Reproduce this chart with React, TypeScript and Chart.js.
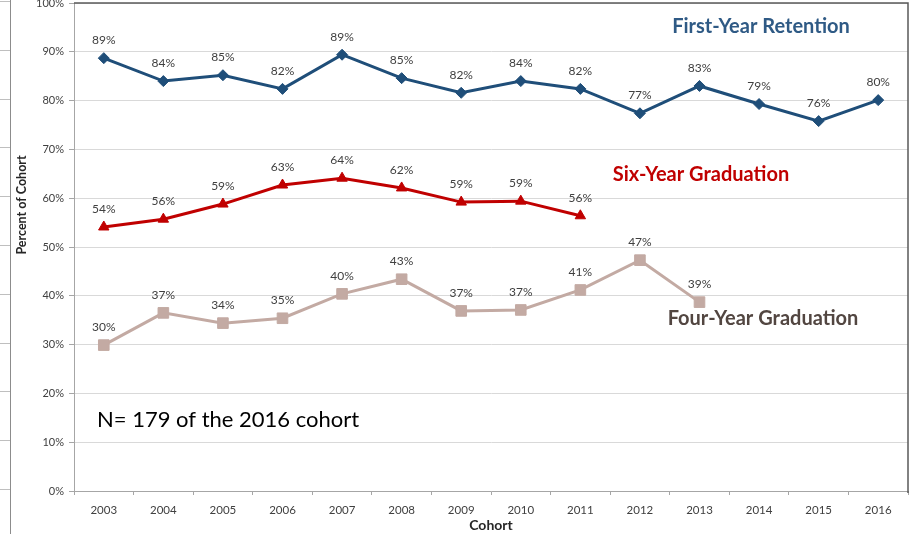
import React, { useEffect, useRef } from "react";
import { Chart, registerables } from "chart.js";

Chart.register(...registerables);

const categories = ["2003", "2004", "2005", "2006", "2007", "2008", "2009", "2010", "2011", "2012", "2013", "2014", "2015", "2016"];
const firstYearRetention = [88.7, 84.0, 85.2, 82.4, 89.4, 84.6, 81.6, 84.0, 82.4, 77.4, 83.0, 79.3, 75.8, 80.1];
const sixYearGraduation = [54.1, 55.7, 58.8, 62.7, 64.1, 62.1, 59.2, 59.4, 56.4];
const fourYearGraduation = [29.9, 36.5, 34.4, 35.4, 40.4, 43.4, 36.9, 37.1, 41.2, 47.3, 38.7];
const yTicks = [0, 10, 20, 30, 40, 50, 60, 70, 80, 90, 100];

const FONT = "Lato, 'Open Sans', sans-serif";

const decorPlugin = {
  id: "decor",
  beforeDraw(chart: any) {
    const ctx = chart.ctx;
    ctx.save();
    ctx.fillStyle = "#ffffff";
    ctx.fillRect(0, 0, chart.width, chart.height);
    ctx.restore();
  },
  afterDatasetsDraw(chart: any) {
    const ctx = chart.ctx;
    const area = chart.chartArea;
    const ys = chart.scales.y;
    ctx.save();
    // top and right frame
    ctx.strokeStyle = "#595959";
    ctx.lineWidth = 1.5;
    ctx.beginPath();
    ctx.moveTo(area.left, area.top);
    ctx.lineTo(area.right, area.top);
    ctx.lineTo(area.right, area.bottom + 2);
    ctx.stroke();

    // left artifact axis
    ctx.strokeStyle = "#8c8c8c";
    ctx.lineWidth = 1;
    ctx.beginPath();
    ctx.moveTo(10.5, 0);
    ctx.lineTo(10.5, chart.height);
    ctx.stroke();
    ctx.strokeStyle = "#bfbfbf";
    yTicks.forEach((v) => {
      const py = Math.round(ys.getPixelForValue(v)) - 1.5;
      ctx.beginPath();
      ctx.moveTo(0, py);
      ctx.lineTo(10, py);
      ctx.stroke();
    });

    // data labels
    ctx.fillStyle = "#404040";
    ctx.font = `12px ${FONT}`;
    ctx.textAlign = "center";
    ctx.textBaseline = "middle";
    chart.data.datasets.forEach((ds: any, i: number) => {
      const meta = chart.getDatasetMeta(i);
      meta.data.forEach((pt: any, j: number) => {
        ctx.fillText(Math.round(ds.data[j]) + "%", pt.x, pt.y - 18);
      });
    });

    // series annotations
    ctx.font = `bold 20px ${FONT}`;
    ctx.fillStyle = "#2f5a85";
    ctx.fillText("First-Year Retention", 761, 27);
    ctx.fillStyle = "#c00000";
    ctx.fillText("Six-Year Graduation", 701, 175);
    ctx.fillStyle = "#524641";
    ctx.fillText("Four-Year Graduation", 763, 319);

    ctx.font = `22px ${FONT}`;
    ctx.fillStyle = "#000000";
    ctx.textAlign = "left";
    ctx.fillText("N= 179 of the 2016 cohort", 97, 420);

    // y axis title
    ctx.translate(22, 205);
    ctx.rotate(-Math.PI / 2);
    ctx.textAlign = "center";
    ctx.font = `bold 12.5px ${FONT}`;
    ctx.fillStyle = "#262626";
    ctx.fillText("Percent of Cohort", 0, 0);
    ctx.restore();
  },
};

export default function App() {
  const canvasRef = useRef<HTMLCanvasElement | null>(null);

  useEffect(() => {
    const canvas = canvasRef.current;
    if (!canvas) return;
    const chart = new Chart(canvas, {
      type: "line",
      data: {
        labels: categories,
        datasets: [
          {
            label: "First-Year Retention",
            data: firstYearRetention,
            borderColor: "#1f4e79",
            backgroundColor: "#1f4e79",
            borderWidth: 3,
            pointStyle: "rectRot",
            pointRadius: 5.5,
            pointBorderWidth: 1,
            tension: 0,
          },
          {
            label: "Six-Year Graduation",
            data: sixYearGraduation,
            borderColor: "#c00000",
            backgroundColor: "#c00000",
            borderWidth: 3,
            pointStyle: "triangle",
            pointRadius: 6,
            pointBorderWidth: 1,
            tension: 0,
          },
          {
            label: "Four-Year Graduation",
            data: fourYearGraduation,
            borderColor: "#c3aaa3",
            backgroundColor: "#c3aaa3",
            borderWidth: 3,
            pointStyle: "rect",
            pointRadius: 7.5,
            pointBorderWidth: 1,
            tension: 0,
          },
        ],
      },
      options: {
        responsive: false,
        animation: false,
        layout: { autoPadding: false, padding: { top: 3, right: 9, left: 0, bottom: 0 } },
        plugins: {
          legend: { display: false },
          tooltip: { enabled: false },
          title: { display: false },
        },
        scales: {
          x: {
            type: "category",
            offset: true,
            grid: {
              display: true,
              drawOnChartArea: false,
              drawTicks: true,
              tickLength: 4,
              color: "#a6a6a6",
              offset: true,
            },
            border: { display: true, color: "#a6a6a6" },
            ticks: {
              color: "#404040",
              font: { family: FONT, size: 11.5 },
              padding: 8,
              maxRotation: 0,
              autoSkip: false,
            },
            title: {
              display: true,
              text: "Cohort",
              color: "#262626",
              font: { family: FONT, size: 14, weight: "bold" },
              padding: { top: 0, bottom: 0 },
            },
            afterFit: (s: any) => {
              s.height = 43;
              s.paddingLeft = 0;
              s.paddingRight = 0;
            },
          },
          y: {
            min: 0,
            max: 100,
            afterBuildTicks: (s: any) => {
              s.ticks = yTicks.map((v) => ({ value: v }));
            },
            grid: { color: "#d9d9d9", tickLength: 5, tickColor: "#a6a6a6" },
            border: { display: true, color: "#a6a6a6" },
            ticks: {
              color: "#404040",
              font: { family: FONT, size: 11 },
              padding: 5,
              callback: (v: any) => v + "%",
            },
            afterFit: (s: any) => {
              s.width = 74;
              s.paddingTop = 0;
              s.paddingBottom = 0;
            },
          },
        },
      },
      plugins: [decorPlugin],
    } as any);
    return () => chart.destroy();
  }, []);

  return (
    <div style={{ position: "fixed", left: 0, top: 0, width: 917, height: 534, background: "#fff" }}>
      <canvas ref={canvasRef} width={917} height={534} style={{ width: 917, height: 534, display: "block" }} />
    </div>
  );
}
